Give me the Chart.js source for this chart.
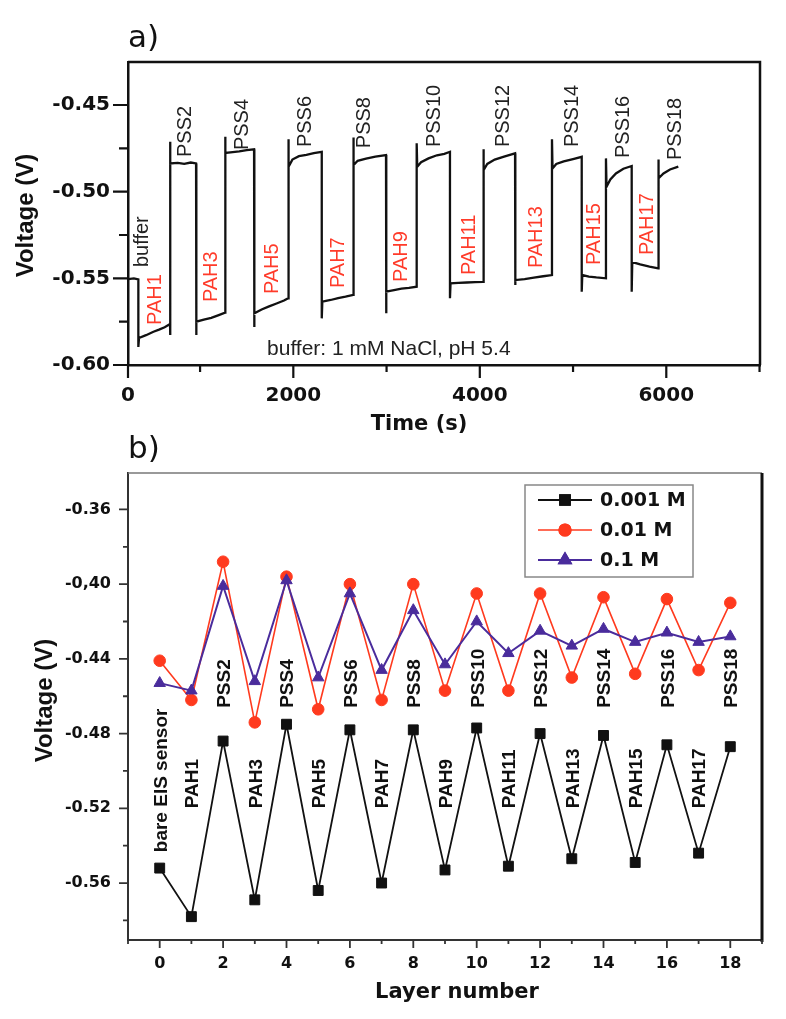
<!DOCTYPE html>
<html><head><meta charset="utf-8">
<script src="https://cdn.jsdelivr.net/npm/chart.js@4/dist/chart.umd.min.js"></script>
<style>
html,body{margin:0;padding:0;background:#fff;}
body{width:786px;height:1019px;position:relative;overflow:hidden;}
#ca{position:absolute;left:0;top:0;width:786px;height:440px;}
#cb{position:absolute;left:0;top:425px;width:786px;height:594px;}
</style></head><body>
<canvas id="ca" width="786" height="440"></canvas>
<canvas id="cb" width="786" height="594"></canvas>
<script>
// ---------------- Panel a data: recorded potential vs time ----------------
const traceTime = [
228, 290, 338,
338, 345, 420, 500, 560, 620, 678,
678, 678, 684, 760, 830, 900, 957,
957, 963, 1040, 1120, 1200, 1268,
1268, 1274, 1350, 1420, 1500, 1579,
1579, 1585, 1660, 1740, 1820, 1900, 1946,
1946, 1952, 1990, 2060, 2140, 2220, 2305,
2305, 2311, 2400, 2480, 2560, 2643,
2643, 2649, 2690, 2780, 2880, 2994,
2994, 3000, 3080, 3160, 3240, 3323,
3323, 3329, 3370, 3450, 3540, 3620, 3680,
3680, 3686, 3770, 3860, 3950, 4038,
4038, 4044, 4080, 4160, 4260, 4378,
4378, 4384, 4480, 4580, 4680, 4774,
4774, 4780, 4820, 4900, 5000, 5093,
5093, 5099, 5170, 5250, 5353,
5353, 5359, 5400, 5460, 5540, 5629,
5629, 5635, 5720, 5820, 5914,
5914, 5920, 5970, 6040, 6129
];
const traceVolt = [
-0.5504, -0.5500, -0.5506,
-0.5896, -0.5844, -0.5828, -0.5808, -0.5796, -0.5782, -0.5764,
-0.5827, -0.4712, -0.4837, -0.4834, -0.4840, -0.4832, -0.4837,
-0.5827, -0.5750, -0.5738, -0.5728, -0.5712, -0.5698,
-0.4683, -0.4777, -0.4772, -0.4768, -0.4760, -0.4756,
-0.5781, -0.5702, -0.5680, -0.5662, -0.5645, -0.5628, -0.5615,
-0.4698, -0.4856, -0.4815, -0.4795, -0.4788, -0.4778, -0.4770,
-0.5731, -0.5635, -0.5625, -0.5614, -0.5606, -0.5596,
-0.4687, -0.4847, -0.4822, -0.4810, -0.4798, -0.4789,
-0.5702, -0.5577, -0.5568, -0.5560, -0.5555, -0.5548,
-0.4721, -0.4856, -0.4830, -0.4808, -0.4790, -0.4782, -0.4770,
-0.5615, -0.5529, -0.5526, -0.5524, -0.5522, -0.5520,
-0.4756, -0.4875, -0.4840, -0.4815, -0.4798, -0.4779,
-0.5539, -0.5510, -0.5504, -0.5496, -0.5488, -0.5481,
-0.4698, -0.4866, -0.4840, -0.4825, -0.4812, -0.4799,
-0.5577, -0.5481, -0.5490, -0.5495, -0.5500,
-0.4808, -0.4972, -0.4930, -0.4895, -0.4868, -0.4852,
-0.5577, -0.5406, -0.5420, -0.5432, -0.5442,
-0.4814, -0.4923, -0.4895, -0.4872, -0.4856
];
const stepNames = ['buffer','PAH1','PSS2','PAH3','PSS4','PAH5','PSS6','PAH7','PSS8','PAH9',
  'PSS10','PAH11','PSS12','PAH13','PSS14','PAH15','PSS16','PAH17','PSS18'];
const stepNameTime = [367, 501, 823, 1107, 1434, 1755, 2109, 2463, 2742, 3144,
  3493, 3868, 4233, 4592, 4978, 5209, 5520, 5782, 6077];
const stepNameVolt = [-0.5435, -0.5769, -0.4800, -0.5637, -0.4760, -0.5591, -0.4743, -0.5556, -0.4749, -0.5521,
  -0.4743, -0.5481, -0.4743, -0.5441, -0.4743, -0.5423, -0.4806, -0.5366, -0.4818];
const bufferNote = 'buffer: 1 mM NaCl, pH 5.4';
const bufferNoteAt = [1718, -0.5942];
const xMinA = 227, xMaxA = 7005, yMinA = -0.60, yMaxA = -0.4252;
const xTickValuesA = [227, 1000, 2000, 3000, 4000, 5000, 6000, 7000];
const xTickLabelsA = ['0', '', '2000', '', '4000', '', '6000', ''];
const yTickValuesA = [-0.60, -0.575, -0.55, -0.525, -0.50, -0.475, -0.45];
const yTickLabelsA = ['-0.60', '', '-0.55', '', '-0.50', '', '-0.45'];

// ---------------- Panel b data: voltage vs layer number ----------------
const layers = [0,1,2,3,4,5,6,7,8,9,10,11,12,13,14,15,16,17,18];
const layerNames = ['bare EIS sensor','PAH1','PSS2','PAH3','PSS4','PAH5','PSS6','PAH7','PSS8','PAH9',
  'PSS10','PAH11','PSS12','PAH13','PSS14','PAH15','PSS16','PAH17','PSS18'];
const layerNameVolt = [-0.5435, -0.52, -0.4662, -0.52, -0.4662, -0.52, -0.4662, -0.52, -0.4662, -0.52,
  -0.4662, -0.52, -0.4662, -0.52, -0.4662, -0.52, -0.4662, -0.52, -0.4662];
const seriesNames = ['0.001 M', '0.01 M', '0.1 M'];
const v0001 = [-0.552,-0.578,-0.484,-0.569,-0.475,-0.564,-0.478,-0.560,-0.478,-0.553,-0.477,-0.551,-0.480,-0.547,-0.481,-0.549,-0.486,-0.544,-0.487];
const v001  = [-0.441,-0.462,-0.388,-0.474,-0.396,-0.467,-0.400,-0.462,-0.400,-0.457,-0.405,-0.457,-0.405,-0.450,-0.407,-0.448,-0.408,-0.446,-0.410];
const v01   = [-0.453,-0.457,-0.401,-0.452,-0.398,-0.450,-0.405,-0.446,-0.414,-0.443,-0.420,-0.437,-0.425,-0.433,-0.424,-0.431,-0.426,-0.431,-0.428];
const xMinB = -1, xMaxB = 19, yMinB = -0.5905, yMaxB = -0.3405;
const xTickValuesB = [-1,0,1,2,3,4,5,6,7,8,9,10,11,12,13,14,15,16,17,18,19];
const xTickLabelsB = ['','0','','2','','4','','6','','8','','10','','12','','14','','16','','18',''];
const yTickValuesB = [-0.58,-0.56,-0.54,-0.52,-0.50,-0.48,-0.46,-0.44,-0.42,-0.40,-0.38,-0.36];
const yTickLabelsB = ['','-0.56','','-0.52','','-0.48','','-0.44','','-0,40','','-0.36'];

// ---------------- helpers ----------------
const SANS = "'Liberation Sans', Arial, sans-serif";
const WIDE = "'DejaVu Sans', Verdana, sans-serif";
function labelFor(vals, labs, v) {
  const i = vals.findIndex(w => Math.abs(w - v) < 1e-6);
  return i < 0 ? '' : labs[i];
}
function tickMarks(chart, o) {
  const ctx = chart.ctx, xs = chart.scales.x, ys = chart.scales.y, a = chart.chartArea;
  ctx.save();
  ctx.strokeStyle = o.color; ctx.lineWidth = o.width;
  ctx.beginPath();
  xs.ticks.forEach(t => {
    const px = xs.getPixelForValue(t.value);
    const len = t.label ? o.xMajor : o.xMinor;
    ctx.moveTo(px, a.bottom); ctx.lineTo(px, a.bottom + len);
  });
  ys.ticks.forEach(t => {
    const py = ys.getPixelForValue(t.value);
    const len = t.label ? o.yMajor : o.yMinor;
    ctx.moveTo(a.left, py); ctx.lineTo(a.left - len, py);
  });
  ctx.stroke();
  ctx.restore();
}
function rotText(ctx, text, cx, cy, size, weight, family, color, align) {
  ctx.save();
  ctx.font = weight + ' ' + size + 'px ' + family;
  ctx.fillStyle = color;
  ctx.translate(cx + 0.716 * size / 2, cy);
  ctx.rotate(-Math.PI / 2);
  ctx.textAlign = align; ctx.textBaseline = 'alphabetic';
  ctx.fillText(text, 0, 0);
  ctx.restore();
}
function hText(ctx, text, x, y, size, weight, family, color, align, baseline) {
  ctx.save();
  ctx.font = weight + ' ' + size + 'px ' + family;
  ctx.fillStyle = color; ctx.textAlign = align; ctx.textBaseline = baseline || 'alphabetic';
  ctx.fillText(text, x, y);
  ctx.restore();
}

// ---------------- Panel a ----------------
const decoA = {
  id: 'decoA',
  afterDraw(chart) {
    const ctx = chart.ctx, a = chart.chartArea, xs = chart.scales.x, ys = chart.scales.y;
    ctx.save();
    ctx.strokeStyle = '#111'; ctx.lineWidth = 2.5;
    ctx.beginPath();
    ctx.moveTo(a.left, a.top); ctx.lineTo(a.right, a.top); ctx.lineTo(a.right, a.bottom);
    ctx.stroke();
    ctx.restore();
    tickMarks(chart, {color: '#111', width: 2.2, xMajor: 13, xMinor: 7, yMajor: 15, yMinor: 9});
    stepNames.forEach((n, i) => {
      const col = n.startsWith('PAH') ? '#ff3b2a' : '#222';
      rotText(ctx, n, xs.getPixelForValue(stepNameTime[i]), ys.getPixelForValue(stepNameVolt[i]), 20, 'normal', SANS, col, 'left');
    });
    hText(ctx, bufferNote, xs.getPixelForValue(bufferNoteAt[0]), ys.getPixelForValue(bufferNoteAt[1]), 21, 'normal', SANS, '#222', 'left');
    hText(ctx, 'a)', a.left, a.top - 15, 31, 'normal', WIDE, '#111', 'left');
    hText(ctx, 'Time (s)', a.left + 291, a.bottom + 65, 21, 'bold', WIDE, '#111', 'center');
    rotText(ctx, 'Voltage (V)', 24, (a.top + a.bottom) / 2 + 2, 24, 'bold', SANS, '#111', 'center');
  }
};

new Chart(document.getElementById('ca'), {
  type: 'scatter',
  data: {
    datasets: [{
      label: 'Voltage',
      data: traceTime.map((t, i) => ({x: t, y: traceVolt[i]})),
      showLine: true, borderColor: '#111', borderWidth: 2.3, pointRadius: 0, tension: 0
    }]
  },
  options: {
    responsive: false, animation: false, events: [],
    layout: {padding: {top: 62, right: 26, left: 0, bottom: 0}},
    plugins: {legend: {display: false}, tooltip: {enabled: false}},
    scales: {
      x: {
        type: 'linear', min: xMinA, max: xMaxA, bounds: 'data',
        afterBuildTicks: s => { s.ticks = xTickValuesA.map(v => ({value: v})); },
        afterFit: s => { s.height = 75; },
        grid: {display: false, drawTicks: false, tickLength: 0},
        border: {display: true, color: '#111', width: 2.5},
        ticks: {autoSkip: false, maxRotation: 0, minRotation: 0, padding: 19, color: '#111',
          font: {family: WIDE, weight: 'bold', size: 20},
          callback: v => labelFor(xTickValuesA, xTickLabelsA, v)}
      },
      y: {
        type: 'linear', min: yMinA, max: yMaxA, bounds: 'data',
        afterBuildTicks: s => { s.ticks = yTickValuesA.map(v => ({value: v})); },
        afterFit: s => { s.width = 128; },
        grid: {display: false, drawTicks: false, tickLength: 0},
        border: {display: true, color: '#111', width: 2.5},
        ticks: {autoSkip: false, padding: 18, color: '#111',
          font: {family: WIDE, weight: 'bold', size: 20},
          callback: v => labelFor(yTickValuesA, yTickLabelsA, v)}
      }
    }
  },
  plugins: [decoA]
});

// ---------------- Panel b ----------------
const seriesStyle = [
  {color: '#111111', point: 'rect', r: 7, w: 1.8},
  {color: '#ff3a1e', point: 'circle', r: 5.8, w: 1.6},
  {color: '#4a2c9c', point: 'triangle', r: 6.6, w: 2}
];
const decoB = {
  id: 'decoB',
  afterDraw(chart) {
    const ctx = chart.ctx, a = chart.chartArea, xs = chart.scales.x, ys = chart.scales.y;
    ctx.save();
    ctx.lineWidth = 1.5; ctx.strokeStyle = '#777';
    ctx.beginPath(); ctx.moveTo(a.left, a.top); ctx.lineTo(a.right, a.top); ctx.stroke();
    ctx.lineWidth = 3; ctx.strokeStyle = '#111';
    ctx.beginPath(); ctx.moveTo(a.right, a.top); ctx.lineTo(a.right, a.bottom + 2); ctx.stroke();
    ctx.restore();
    tickMarks(chart, {color: '#333', width: 1.8, xMajor: 8, xMinor: 4, yMajor: 9, yMinor: 5});
    layerNames.forEach((n, i) => {
      rotText(ctx, n, xs.getPixelForValue(layers[i]), ys.getPixelForValue(layerNameVolt[i]), 19, 'bold', SANS, '#111', 'left');
    });
    const lx = 525, ly = a.top + 12, lw = 168, lh = 92;
    ctx.save();
    ctx.fillStyle = '#fff'; ctx.fillRect(lx, ly, lw, lh);
    ctx.strokeStyle = '#888'; ctx.lineWidth = 1.5; ctx.strokeRect(lx, ly, lw, lh);
    ctx.restore();
    seriesNames.forEach((n, i) => {
      const st = seriesStyle[i], cy = ly + 15 + i * 30;
      ctx.save();
      ctx.strokeStyle = st.color; ctx.lineWidth = st.w;
      ctx.beginPath(); ctx.moveTo(lx + 13, cy); ctx.lineTo(lx + 67, cy); ctx.stroke();
      ctx.fillStyle = st.color;
      Chart.helpers.drawPoint(ctx, {pointStyle: st.point, radius: st.r, rotation: 0, borderWidth: 1}, lx + 40, cy);
      ctx.fill(); ctx.stroke();
      ctx.restore();
      hText(ctx, n, lx + 75, cy + 1, 19, 'bold', WIDE, '#111', 'left', 'middle');
    });
    hText(ctx, 'b)', a.left, a.top - 15, 31, 'normal', WIDE, '#111', 'left');
    hText(ctx, 'Layer number', 457, a.bottom + 58, 21, 'bold', WIDE, '#111', 'center');
    rotText(ctx, 'Voltage (V)', 43, (a.top + a.bottom) / 2 - 6, 24, 'bold', SANS, '#111', 'center');
  }
};

const seriesVals = [v0001, v001, v01];
new Chart(document.getElementById('cb'), {
  type: 'scatter',
  data: {
    datasets: seriesNames.map((n, i) => ({
      label: n,
      data: layers.map((l, j) => ({x: l, y: seriesVals[i][j]})),
      showLine: true, tension: 0,
      borderColor: seriesStyle[i].color, borderWidth: seriesStyle[i].w,
      pointStyle: seriesStyle[i].point, pointRadius: seriesStyle[i].r,
      pointBackgroundColor: seriesStyle[i].color, pointBorderColor: seriesStyle[i].color,
      pointBorderWidth: 1,
      order: 2 - i
    }))
  },
  options: {
    responsive: false, animation: false, events: [],
    layout: {padding: {top: 48, right: 24, left: 0, bottom: 0}},
    plugins: {legend: {display: false}, tooltip: {enabled: false}},
    scales: {
      x: {
        type: 'linear', min: xMinB, max: xMaxB, bounds: 'data',
        afterBuildTicks: s => { s.ticks = xTickValuesB.map(v => ({value: v})); },
        afterFit: s => { s.height = 79; },
        grid: {display: false, drawTicks: false, tickLength: 0},
        border: {display: true, color: '#333', width: 2},
        ticks: {autoSkip: false, maxRotation: 0, minRotation: 0, padding: 14, color: '#111',
          font: {family: WIDE, weight: 'bold', size: 16},
          callback: v => labelFor(xTickValuesB, xTickLabelsB, v)}
      },
      y: {
        type: 'linear', min: yMinB, max: yMaxB, bounds: 'data',
        afterBuildTicks: s => { s.ticks = yTickValuesB.map(v => ({value: v})); },
        afterFit: s => { s.width = 128; },
        grid: {display: false, drawTicks: false, tickLength: 0},
        border: {display: true, color: '#333', width: 2},
        ticks: {autoSkip: false, padding: 17, color: '#111',
          font: {family: WIDE, weight: 'bold', size: 16},
          callback: v => labelFor(yTickValuesB, yTickLabelsB, v)}
      }
    }
  },
  plugins: [decoB]
});
</script></body></html>
